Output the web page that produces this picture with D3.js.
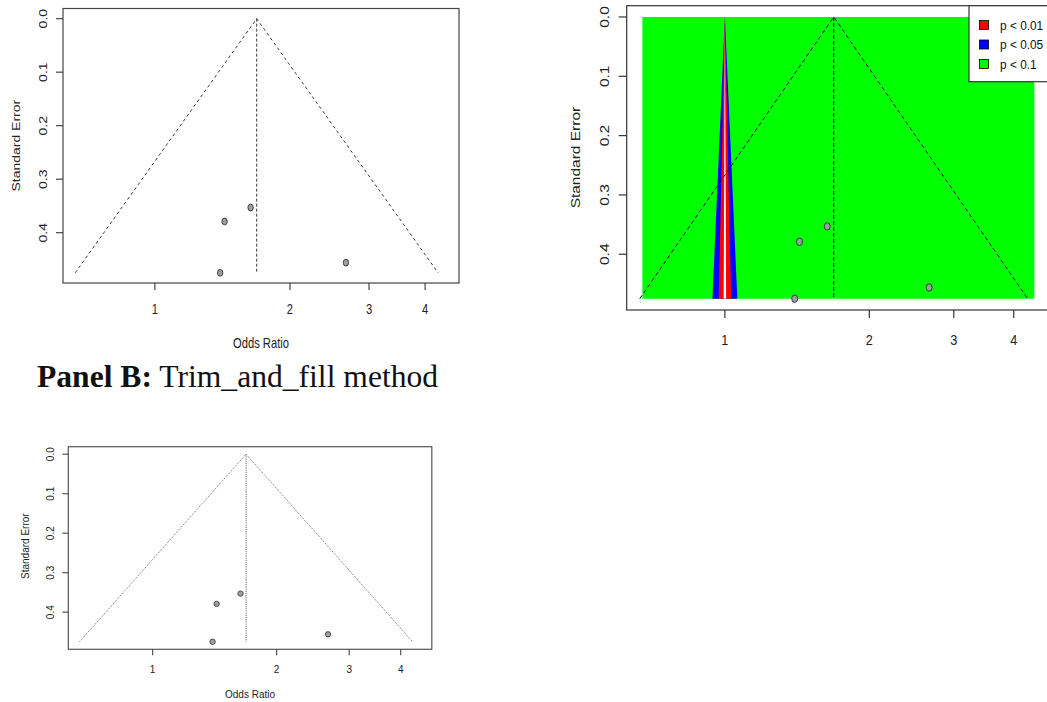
<!DOCTYPE html>
<html>
<head>
<meta charset="utf-8">
<script src="https://cdn.jsdelivr.net/npm/d3@7"></script>
<style>
  body { margin: 0; background: white; }
  svg { display: block; }
</style>
</head>
<body>
<div id="chart"></div>
<script>
// study estimates
const oddsRatio = [1.634, 1.430, 1.398, 2.665];
const standardError = [0.353, 0.379, 0.475, 0.456];
const pooledOR = 1.686;
const seMax = 0.475;
const funnelZ = 1.96;
const orLimits = [0.673, 4.415];
const xTicks = [1, 2, 3, 4];
const yTicks = [0, 0.1, 0.2, 0.3, 0.4];
// contour half-widths (z multipliers) drawn on top of the green background
const contourZ = [0.1257, 0.0627, 0.0125];
const contourColors = ['#0000ff', '#ff0000', '#ffffff'];
const legendLabels = ['p < 0.01', 'p < 0.05', 'p < 0.1'];
const legendColors = ['#ff0000', '#0000ff', '#00ff00'];

class FunnelPlot {
    constructor(opts) {
        this.svg = opts.svg;
        this.box = opts.box;
        this.font = opts.font;
        this.sx = opts.sx;
        this.opts = opts;
        this.draw();
    }

    label(x, y, txt, rot, size) {
        const t = `translate(${x},${y}) scale(${this.sx},1)` + (rot ? ' rotate(-90)' : '');
        this.g.append('text')
            .attr('transform', t)
            .attr('text-anchor', 'middle')
            .attr('dominant-baseline', 'central')
            .style('font-family', 'Liberation Sans, Arial, sans-serif')
            .style('font-size', (size || this.font) + 'px')
            .style('fill', '#222')
            .text(txt);
    }

    draw() {
        const b = this.box, o = this.opts;
        this.g = this.svg.append('g');

        const lo = Math.log(orLimits[0]), hi = Math.log(orLimits[1]);
        const pad = 0.04 * (hi - lo);
        this.x = d3.scaleLog()
            .domain([Math.exp(lo - pad), Math.exp(hi + pad)])
            .range([b.left, b.right]);
        this.y = d3.scaleLinear()
            .domain([-0.04 * seMax, 1.04 * seMax])
            .range([b.top, b.bottom]);

        if (o.contours) this.drawContours();
        this.drawFunnel();
        this.drawPoints();
        this.drawAxes();
        if (o.legend) this.drawLegend();
    }

    drawContours() {
        const x = this.x, y = this.y;
        this.g.append('rect')
            .attr('x', x(orLimits[0]))
            .attr('y', y(0))
            .attr('width', x(orLimits[1]) - x(orLimits[0]))
            .attr('height', y(seMax) - y(0))
            .style('fill', '#00ff00');

        contourZ.forEach((z, i) => {
            const pts = [[1, 0], [Math.exp(-z * seMax), seMax], [Math.exp(z * seMax), seMax]];
            this.g.append('path')
                .attr('d', d3.line().x(d => x(d[0])).y(d => y(d[1]))(pts) + 'Z')
                .style('fill', contourColors[i])
                .style('stroke', 'none');
        });
    }

    drawFunnel() {
        const x = this.x, y = this.y, o = this.opts;
        const est = Math.log(pooledOR);
        const pts = [
            [Math.exp(est - funnelZ * seMax), seMax],
            [pooledOR, 0],
            [Math.exp(est + funnelZ * seMax), seMax]
        ];
        const line = d3.line().x(d => x(d[0])).y(d => y(d[1]));
        this.g.append('path')
            .attr('d', line(pts))
            .style('fill', 'none')
            .style('stroke', o.lineColor)
            .style('stroke-width', o.lineWidth)
            .style('stroke-dasharray', o.dash);
        this.g.append('path')
            .attr('d', line([[pooledOR, 0], [pooledOR, seMax]]))
            .style('fill', 'none')
            .style('stroke', o.lineColor)
            .style('stroke-width', o.lineWidth)
            .style('stroke-dasharray', o.vDash);
    }

    drawPoints() {
        const o = this.opts;
        this.g.selectAll('ellipse.study')
            .data(oddsRatio.map((d, i) => ({ or: d, se: standardError[i] })))
            .enter()
            .append('ellipse')
            .attr('class', 'study')
            .attr('cx', d => this.x(d.or))
            .attr('cy', d => this.y(d.se))
            .attr('rx', o.rx)
            .attr('ry', o.ry)
            .style('fill', '#9e9e9e')
            .style('stroke', o.dotStroke)
            .style('stroke-width', 0.8);
    }

    drawAxes() {
        const b = this.box, o = this.opts, x = this.x, y = this.y;
        this.g.append('rect')
            .attr('x', b.left).attr('y', b.top)
            .attr('width', b.right - b.left).attr('height', b.bottom - b.top)
            .style('fill', 'none')
            .style('stroke', o.boxColor)
            .style('stroke-width', 1.2);

        yTicks.forEach(t => {
            this.g.append('line')
                .attr('x1', b.left).attr('x2', b.left - o.tick)
                .attr('y1', y(t)).attr('y2', y(t))
                .style('stroke', o.boxColor).style('stroke-width', 1.2);
            this.label(b.left - o.yLab, y(t), d3.format('.1f')(t), true);
        });
        xTicks.forEach(t => {
            this.g.append('line')
                .attr('x1', x(t)).attr('x2', x(t))
                .attr('y1', b.bottom).attr('y2', b.bottom + o.tick)
                .style('stroke', o.boxColor).style('stroke-width', 1.2);
            this.label(x(t), b.bottom + o.xLab, String(t), false);
        });
        this.label(b.left - o.yTitle, (y(0) + y(0.4)) / 2 + o.yTitleShift, 'Standard Error', true);
        if (o.xTitle) this.label((b.left + b.right) / 2, b.bottom + o.xTitle, 'Odds Ratio', false);
    }

    drawLegend() {
        const lg = this.opts.legend;
        this.g.append('rect')
            .attr('x', lg.left).attr('y', this.box.top)
            .attr('width', this.box.right - lg.left).attr('height', lg.height)
            .style('fill', 'white')
            .style('stroke', this.opts.boxColor)
            .style('stroke-width', 1.2);
        legendLabels.forEach((l, i) => {
            const cy = lg.first + i * lg.step;
            this.g.append('rect')
                .attr('x', lg.left + 10.5).attr('y', cy - 4.5)
                .attr('width', 9).attr('height', 9)
                .style('fill', legendColors[i])
                .style('stroke', '#000').style('stroke-width', 0.8);
            this.g.append('text')
                .attr('transform', `translate(${lg.left + 31},${cy}) scale(0.88,1)`)
                .attr('dominant-baseline', 'central')
                .style('font-family', 'Liberation Sans, Arial, sans-serif')
                .style('font-size', '13.5px')
                .style('fill', '#111')
                .text(l);
        });
    }
}

const svg = d3.select('#chart').append('svg')
    .attr('width', 1047)
    .attr('height', 702);

new FunnelPlot({
    svg: svg,
    box: { left: 63, right: 459, top: 8.5, bottom: 283 },
    font: 14, sx: 0.8, tick: 7, yLab: 20, yTitle: 47, yTitleShift: 20, xLab: 27, xTitle: 61,
    lineColor: '#222', lineWidth: 0.9, dash: '3,3', vDash: '3,2',
    boxColor: '#444', rx: 2.7, ry: 3.4, dotStroke: '#222'
});

new FunnelPlot({
    svg: svg,
    box: { left: 626.7, right: 1050, top: 5.7, bottom: 310 },
    font: 15.5, sx: 0.82, tick: 8, yLab: 21.7, yTitle: 50.7, yTitleShift: 22, xLab: 30, xTitle: 0,
    lineColor: '#000', lineWidth: 1, dash: '4,3', vDash: '4,2',
    boxColor: '#333', rx: 3, ry: 3.7, dotStroke: '#222',
    contours: true,
    legend: { left: 969, height: 76, first: 25, step: 19.5 }
});

new FunnelPlot({
    svg: svg,
    box: { left: 68.3, right: 431.8, top: 446.7, bottom: 649.3 },
    font: 10, sx: 1, tick: 6, yLab: 18.3, yTitle: 43.3, yTitleShift: 13, xLab: 20, xTitle: 44.7,
    lineColor: '#555', lineWidth: 0.9, dash: '1,1.2', vDash: '1.2,1',
    boxColor: '#555', rx: 2.7, ry: 2.7, dotStroke: '#333'
});

svg.append('text')
    .attr('x', 37)
    .attr('y', 387)
    .style('font-family', 'Liberation Serif, Times New Roman, serif')
    .style('font-size', '31.6px')
    .style('fill', '#111')
    .call(t => t.append('tspan').style('font-weight', 'bold').text('Panel B:'))
    .call(t => t.append('tspan').text(' Trim_and_fill method'));
</script>
</body>
</html>
